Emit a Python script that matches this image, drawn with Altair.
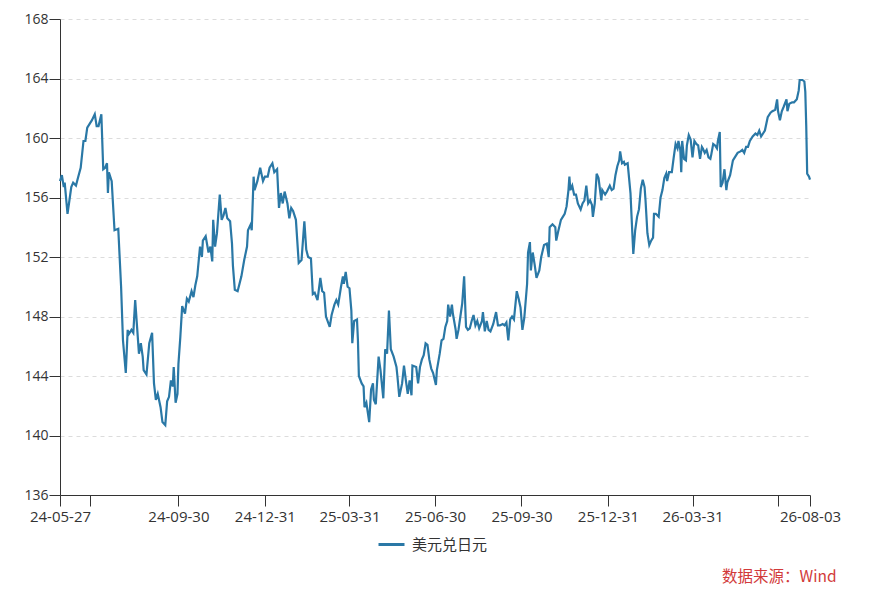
import altair as alt
import pandas as pd

AXIS_FONT = "Open Sans"
CJK_FONT = "Noto Sans CJK SC"

start_date = "2024-05-27"
series_name = "美元兑日元"
source_note = "数据来源：Wind"

# x positions as day offsets from start_date
day_offsets = [
    0, 2, 4, 5, 8, 10, 12, 14, 17, 19, 22, 25, 27, 29, 34, 37, 39, 41, 44, 46,
    48, 50, 51, 52, 55, 58, 62, 65, 67, 70, 72, 73, 76, 78, 80, 82, 84, 86, 88, 89,
    92, 95, 98, 100, 102, 104, 107, 109, 112, 114, 116, 118, 120, 121, 123, 125, 126, 128, 130, 133,
    135, 137, 140, 142, 144, 146, 149, 151, 152, 155, 158, 160, 162, 163, 165, 167, 170, 172, 174, 176,
    178, 181, 183, 184, 186, 189, 191, 193, 196, 199, 200, 203, 204, 206, 207, 210, 213, 216, 218, 221,
    223, 226, 228, 231, 233, 235, 237, 239, 242, 244, 246, 248, 251, 254, 257, 260, 262, 264, 267, 269,
    271, 274, 277, 279, 281, 283, 287, 289, 292, 294, 296, 299, 301, 302, 304, 306, 308, 310, 311, 313,
    316, 317, 318, 321, 323, 324, 326, 329, 331, 333, 334, 336, 339, 341, 344, 346, 348, 350, 352, 355,
    358, 359, 361, 364, 366, 368, 370, 372, 374, 375, 379, 381, 383, 385, 387, 389, 391, 393, 395, 397,
    400, 401, 404, 406, 408, 410, 412, 413, 415, 417, 418, 421, 422, 424, 426, 428, 430, 432, 434, 436,
    438, 440, 442, 444, 446, 449, 450, 452, 454, 456, 458, 461, 464, 466, 468, 471, 473, 475, 477, 479,
    481, 483, 486, 488, 490, 492, 494, 497, 498, 500, 501, 503, 505, 507, 510, 512, 515, 518, 520, 521,
    524, 527, 528, 530, 533, 535, 537, 539, 541, 542, 543, 545, 547, 549, 551, 554, 556, 558, 560, 562,
    564, 566, 567, 569, 571, 573, 575, 576, 577, 580, 582, 585, 587, 589, 591, 593, 595, 596, 598, 600,
    601, 604, 607, 608, 610, 612, 614, 616, 618, 620, 622, 623, 625, 627, 629, 631, 632, 634, 637, 639,
    641, 643, 645, 646, 648, 651, 653, 655, 657, 658, 660, 661, 662, 664, 666, 667, 669, 671, 673, 675,
    677, 679, 681, 683, 684, 686, 688, 690, 692, 693, 695, 697, 699, 700, 702, 703, 705, 707, 709, 710,
    713, 716, 718, 721, 724, 726, 728, 730, 732, 734, 737, 740, 742, 744, 746, 748, 750, 753, 756, 758,
    761, 763, 764, 766, 768, 770, 773, 774, 776, 779, 781, 784, 786, 787, 790, 792, 793, 794, 795, 797,
    798,
]

usdjpy = [
    157.1, 157.5, 156.7, 157.0, 154.9, 155.8, 156.7, 157.0, 156.8, 157.3, 158.0, 159.8, 159.8, 160.7, 161.2, 161.6, 160.8, 160.8, 161.6, 157.9,
    158.0, 158.3, 156.3, 157.7, 157.1, 153.8, 153.9, 150.0, 146.4, 144.2, 147.1, 146.8, 147.1, 146.9, 149.1, 147.3, 145.5, 146.2, 145.3, 144.4,
    144.1, 146.2, 146.9, 143.5, 142.4, 142.8, 141.9, 140.9, 140.7, 142.3, 142.6, 143.7, 143.3, 144.6, 142.2, 142.8, 144.8, 146.6, 148.7, 148.2,
    149.2, 149.0, 149.7, 149.3, 150.1, 150.7, 152.7, 152.0, 153.1, 153.4, 152.3, 152.7, 151.7, 154.5, 152.7, 153.6, 156.2, 154.5, 154.8, 155.3,
    154.6, 154.4, 152.9, 151.4, 149.8, 149.7, 150.2, 150.7, 151.8, 152.7, 153.8, 154.2, 153.8, 157.4, 156.5, 157.1, 158.0, 157.1, 157.4, 157.4,
    158.0, 158.3, 157.7, 157.9, 155.3, 156.3, 155.6, 156.4, 155.6, 154.6, 155.3, 155.1, 154.5, 151.6, 151.8, 154.4, 152.5, 152.0, 151.9, 149.5,
    149.6, 149.1, 150.6, 149.7, 149.6, 148.0, 147.3, 148.1, 148.8, 149.1, 148.8, 150.0, 150.7, 150.2, 151.0, 150.0, 149.9, 148.4, 146.2, 147.7,
    147.8, 146.4, 144.0, 143.5, 143.3, 141.9, 142.2, 140.9, 143.1, 143.5, 142.4, 142.1, 145.3, 144.4, 142.5, 145.8, 145.5, 148.4, 145.8, 145.3,
    144.6, 144.0, 142.6, 143.5, 144.7, 143.7, 142.8, 143.7, 142.7, 144.7, 144.6, 143.5, 144.6, 145.1, 145.4, 146.2, 146.1, 145.1, 144.5, 144.2,
    143.4, 144.4, 145.5, 146.4, 146.5, 147.3, 147.7, 148.8, 148.0, 148.8, 148.2, 147.1, 146.5, 147.1, 148.0, 148.9, 150.7, 147.3, 147.1, 147.2,
    147.7, 148.1, 147.4, 147.7, 147.2, 147.7, 148.3, 147.0, 147.7, 147.1, 147.0, 147.5, 148.3, 147.4, 147.4, 147.5, 147.4, 147.6, 146.4, 147.8,
    148.0, 147.8, 149.7, 149.2, 148.6, 147.1, 147.9, 150.2, 152.3, 153.0, 151.1, 152.3, 151.5, 150.6, 151.1, 152.0, 152.8, 152.9, 152.0, 154.0,
    154.2, 154.0, 153.1, 153.7, 154.5, 154.7, 154.9, 155.4, 156.5, 157.4, 156.5, 156.8, 156.2, 156.2, 155.6, 155.2, 155.6, 155.8, 156.8, 155.6,
    155.8, 155.5, 154.7, 155.6, 157.6, 157.3, 156.3, 155.8, 156.5, 156.2, 156.4, 156.8, 156.5, 156.6, 157.5, 158.1, 158.5, 159.1, 158.3, 158.4,
    158.2, 158.3, 156.3, 154.9, 152.2, 153.8, 154.7, 155.2, 156.6, 157.2, 156.7, 155.8, 153.6, 152.8, 153.1, 153.3, 154.9, 154.9, 154.7, 156.0,
    156.5, 157.3, 157.6, 157.1, 157.7, 157.7, 158.7, 159.6, 159.3, 159.8, 159.2, 157.7, 159.8, 158.6, 158.5, 159.5, 160.2, 159.9, 158.7, 159.8,
    159.6, 159.5, 158.6, 159.4, 159.3, 159.0, 159.2, 158.7, 158.6, 158.9, 159.6, 159.5, 159.3, 159.8, 160.4, 156.7, 157.0, 157.9, 156.5, 157.0,
    157.5, 158.5, 158.7, 159.0, 159.1, 159.2, 159.0, 159.4, 159.4, 159.8, 160.1, 160.3, 160.2, 160.5, 160.1, 160.3, 160.5, 161.4, 161.7, 161.8,
    161.9, 162.6, 161.8, 161.2, 161.8, 162.1, 162.6, 161.8, 162.3, 162.4, 162.4, 162.6, 163.2, 163.9, 163.9, 163.8, 163.1, 160.8, 157.6, 157.4,
    157.2,
]

tick_dates = [
    "2024-05-27", "2024-06-28", "2024-09-30", "2024-12-31", "2025-03-31", "2025-06-30",
    "2025-09-30", "2025-12-31", "2026-03-31", "2026-06-30", "2026-08-03",
]
unlabeled_ticks = ["24-06-28", "26-06-30"]
y_ticks = [136, 140, 144, 148, 152, 156, 160, 164, 168]

LINE_COLOR = "#2a78a6"
TEXT_COLOR = "#333333"

dates = (pd.Timestamp(start_date) + pd.to_timedelta(day_offsets, unit="D")).strftime("%Y-%m-%d")
df = pd.DataFrame({"date": list(dates), "value": usdjpy, "series": series_name})


def dt(s):
    y, m, d = (int(p) for p in s.split("-"))
    return alt.DateTime(year=y, month=m, date=d, utc=True)


hide_expr = " || ".join(f"datum.label == '{lbl}'" for lbl in unlabeled_ticks)

x_enc = alt.X(
    "date:T",
    scale=alt.Scale(type="utc", domain=[dt(tick_dates[0]), dt(tick_dates[-1])]),
    axis=alt.Axis(
        title=None,
        values=[dt(s) for s in tick_dates],
        format="%y-%m-%d",
        labelExpr=f"({hide_expr}) ? '' : datum.label",
        grid=False,
        tickSize=11,
        tickColor=TEXT_COLOR,
        domainColor=TEXT_COLOR,
        labelColor=TEXT_COLOR,
        labelFontSize=15,
        labelFont=AXIS_FONT,
        labelPadding=3,
        labelOverlap=False,
        labelFlush=False,
    ),
)

y_enc = alt.Y(
    "value:Q",
    scale=alt.Scale(domain=[y_ticks[0], y_ticks[-1]], nice=False, zero=False),
    axis=alt.Axis(
        title=None,
        values=y_ticks,
        grid=True,
        gridDash=[4, 4],
        gridColor="#dcdcdc",
        gridWidth=1,
        tickSize=11,
        tickColor=TEXT_COLOR,
        domainColor=TEXT_COLOR,
        labelColor=TEXT_COLOR,
        labelFontSize=14,
        labelFont=AXIS_FONT,
        labelPadding=1,
    ),
)

color_enc = alt.Color(
    "series:N",
    scale=alt.Scale(range=[LINE_COLOR]),
    legend=alt.Legend(
        title=None,
        orient="none",
        legendX=317,
        legendY=511,
        symbolType="stroke",
        symbolSize=676,
        symbolStrokeWidth=3,
        labelFontSize=15,
        labelFont=CJK_FONT,
        labelColor=TEXT_COLOR,
        labelOffset=6,
    ),
)

chart = (
    alt.Chart(df)
    .mark_line(strokeWidth=2.2)
    .encode(x=x_enc, y=y_enc, color=color_enc)
    .properties(
        width=750,
        height=476,
        autosize=alt.AutoSizeParams(type="none"),
        padding={"left": 52, "top": 11, "right": 50, "bottom": 95},
        title=alt.TitleParams(
            source_note,
            orient="bottom",
            anchor="end",
            color="#d23a3a",
            fontSize=15.5,
            fontWeight="normal",
            font=CJK_FONT,
            offset=17,
            dx=-4,
        ),
    )
    .configure(font=CJK_FONT)
    .configure_view(stroke=None)
)

chart.save("out.html", embed_options={"renderer": "svg", "actions": False})
